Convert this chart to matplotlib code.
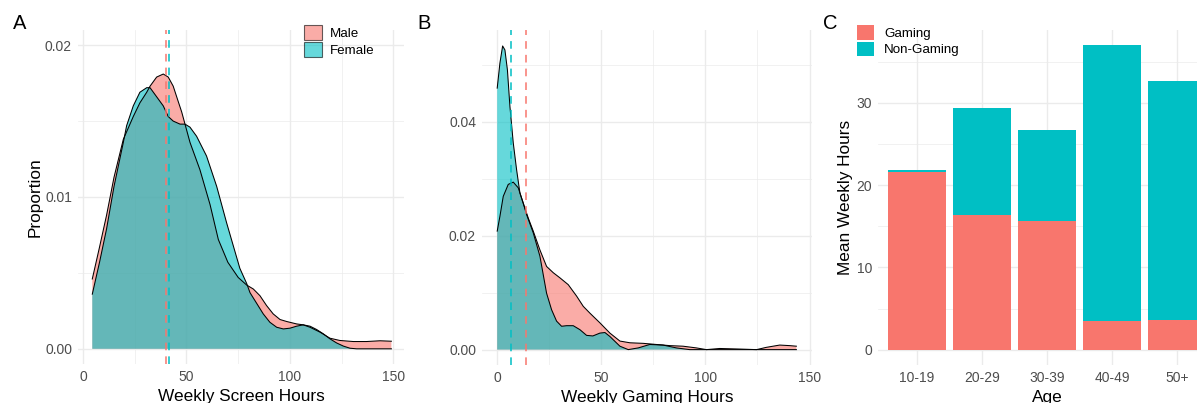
import numpy as np
import matplotlib.pyplot as plt
from matplotlib.patches import Patch

plt.rcParams['font.family'] = ['Liberation Sans', 'DejaVu Sans']

RED = '#F8766D'
TEAL = '#00BFC4'

# panel A: density of weekly screen hours by gender
screen_male_x = [4.5, 8, 11.4, 15, 19.5, 24.3, 27.5, 30.8, 32.4, 35.6, 38.8, 41.2, 43.6, 46.0, 47.7,
                 49.3, 51.7, 56.5, 61.4, 65.4, 70, 75, 79.1, 82.3, 85.5, 88.7, 91.9, 95.2, 98.4,
                 103.2, 106.4, 109.7, 114.5, 119.3, 124.1, 130.6, 137.0, 143.5, 149]
screen_male_y = [0.0046, 0.0067, 0.0088, 0.0113, 0.0138, 0.0153, 0.0162, 0.0169, 0.0173, 0.0179,
                 0.0181, 0.0179, 0.0173, 0.0163, 0.0156, 0.0148, 0.0136, 0.0118, 0.0095, 0.0072,
                 0.0057, 0.0047, 0.0042, 0.00394, 0.0035, 0.00285, 0.0023, 0.00193, 0.0018, 0.00164,
                 0.00158, 0.00142, 0.0011, 0.0007, 0.00055, 0.00048, 0.00048, 0.00053, 0.0005]
screen_female_x = [4.5, 8, 11.4, 15, 19.5, 21.1, 24.3, 27.5, 30.8, 32.4, 35.6, 38.8, 41.2, 43.6, 46.9,
                   49.3, 51.7, 54.9, 59.7, 64.6, 69.4, 72.6, 75.8, 79.1, 80.7, 83.9, 87.1, 90.3, 93.6,
                   96.8, 100.0, 103.2, 106.4, 109.7, 112.9, 116.1, 119.3, 122.5, 125.8, 129.0, 132.2,
                   140, 149]
screen_female_y = [0.0036, 0.0057, 0.0079, 0.0107, 0.0136, 0.0147, 0.0160, 0.0169, 0.0172, 0.0172,
                   0.0166, 0.0160, 0.0153, 0.0150, 0.0148, 0.0148, 0.0146, 0.0140, 0.0127, 0.0107,
                   0.0083, 0.0068, 0.0053, 0.0043, 0.0037, 0.0030, 0.0023, 0.00175, 0.00142, 0.00131,
                   0.00136, 0.00149, 0.00158, 0.00149, 0.00127, 0.00099, 0.00066, 0.00039, 0.00018,
                   0.00004, 0.0, 0.0, 0.0]
screen_median_male = 39.9
screen_median_female = 41.5

# panel B: density of weekly gaming hours by gender
gaming_male_x = [0.1, 1.4, 3.0, 5.4, 7.8, 10.2, 12.6, 15.0, 17.4, 20.6, 23.8, 27.0, 30.2, 34.2, 38.2,
                 41.4, 44.6, 49.4, 54.2, 59.0, 63.8, 70.2, 76.6, 83.0, 89.3, 95.7, 100.5, 106.9,
                 116.5, 124.6, 129.3, 135.7, 140.5, 143.7]
gaming_male_y = [0.0208, 0.0234, 0.0269, 0.0290, 0.0294, 0.0284, 0.0257, 0.0231, 0.0208, 0.0175,
                 0.0146, 0.0135, 0.0126, 0.0114, 0.0094, 0.0076, 0.0064, 0.0047, 0.0029, 0.0015,
                 0.0012, 0.0011, 0.0009, 0.0007, 0.0006, 0.0003, 0.0, 0.0002, 0.0001, 0.0,
                 0.0004, 0.0008, 0.0007, 0.0006]
gaming_female_x = [0.1, 1.4, 2.7, 3.8, 5.0, 6.2, 7.8, 9.4, 11.0, 12.6, 14.2, 17.4, 20.6, 23.8, 26.2,
                   28.6, 31.0, 33.4, 36.6, 39.8, 43.0, 46.0, 49.4, 51.8, 54.2, 59.0, 63.0, 67.8,
                   73.3, 79.7, 86.1, 92.5, 110, 130, 143.7]
gaming_female_y = [0.0459, 0.0503, 0.0533, 0.0526, 0.0491, 0.0427, 0.0363, 0.0316, 0.0275, 0.0257,
                   0.0237, 0.0205, 0.0164, 0.0099, 0.0070, 0.0050, 0.0041, 0.0042, 0.0042, 0.0035,
                   0.0025, 0.0024, 0.0029, 0.0030, 0.0023, 0.0006, 0.0, 0.0003, 0.0009, 0.0008,
                   0.0003, 0.0, 0.0, 0.0, 0.0]
gaming_median_male = 13.9
gaming_median_female = 6.5

# panel C: mean weekly hours by age group
age_groups = ['10-19', '20-29', '30-39', '40-49', '50+']
gaming_hours = [21.6, 16.4, 15.7, 3.5, 3.6]
non_gaming_hours = [0.2, 13.0, 11.0, 33.5, 29.1]

W, H = 1197, 403


def add_axes(left, top, right, bottom):
    return fig.add_axes([left / W, 1 - bottom / H, (right - left) / W, (bottom - top) / H])


def style_axes(ax):
    for s in ax.spines.values():
        s.set_visible(False)
    ax.tick_params(which='both', length=0, labelsize=10, labelcolor='#4D4D4D')
    ax.tick_params(axis='x', pad=4)
    ax.tick_params(axis='y', pad=4.3)
    ax.grid(which='major', color='#EBEBEB', lw=1.0)
    ax.grid(which='minor', color='#EBEBEB', lw=0.5)
    ax.set_axisbelow(True)


def draw_density(ax, x, y, color):
    ax.fill_between(x, 0, y, facecolor=color, alpha=0.6, edgecolor='none')
    ax.plot(x, y, color='black', lw=0.75)


fig = plt.figure(figsize=(W / 100, H / 100), dpi=100)

# ---- A
axA = add_axes(78, 30, 404, 364)
style_axes(axA)
draw_density(axA, screen_male_x, screen_male_y, RED)
draw_density(axA, screen_female_x, screen_female_y, TEAL)
axA.axvline(screen_median_male, color=RED, ls=(0, (5, 4)), lw=1.1)
axA.axvline(screen_median_female, color=TEAL, ls=(0, (5, 4)), lw=1.1)
axA.set_xlim(-2.4, 155.1)
axA.set_ylim(-0.001, 0.021)
axA.set_xticks([0, 50, 100, 150])
axA.set_xticks([25, 75, 125], minor=True)
axA.set_yticks([0, 0.01, 0.02], ['0.00', '0.01', '0.02'])
axA.set_yticks([0.005, 0.015], minor=True)
axA.set_xlabel('Weekly Screen Hours', fontsize=12.4, va='baseline')
axA.xaxis.set_label_coords(0.5, -0.112)
axA.set_ylabel('Proportion', fontsize=12.4, va='center')
axA.yaxis.set_label_coords(-0.132, 0.5)
handles = [Patch(facecolor=RED, alpha=0.6, edgecolor='black', lw=0.8),
           Patch(facecolor=TEAL, alpha=0.6, edgecolor='black', lw=0.8)]
axA.legend(handles, ['Male', 'Female'], loc='upper left', bbox_to_anchor=(0.693, 1.015),
           frameon=False, borderpad=0, borderaxespad=0, fontsize=9.6,
           handlelength=1.36, handleheight=1.36, labelspacing=0.12, handletextpad=0.6)

# ---- B
axB = add_axes(482, 30, 812, 365)
style_axes(axB)
draw_density(axB, gaming_male_x, gaming_male_y, RED)
draw_density(axB, gaming_female_x, gaming_female_y, TEAL)
axB.axvline(gaming_median_female, color=TEAL, ls=(0, (5, 4)), lw=1.1)
axB.axvline(gaming_median_male, color=RED, ls=(0, (5, 4)), lw=1.1)
axB.set_xlim(-7.2, 151.2)
axB.set_ylim(-0.0027, 0.0561)
axB.set_xticks([0, 50, 100, 150])
axB.set_xticks([25, 75, 125], minor=True)
axB.set_yticks([0, 0.02, 0.04], ['0.00', '0.02', '0.04'])
axB.set_yticks([0.01, 0.03, 0.05], minor=True)
axB.set_xlabel('Weekly Gaming Hours', fontsize=12.4, va='baseline')
axB.xaxis.set_label_coords(0.5, -0.109)

# ---- C
axC = add_axes(878, 30, 1216, 365)
style_axes(axC)
pos = np.arange(len(age_groups))
axC.bar(pos, gaming_hours, width=0.9, color=RED, lw=0)
axC.bar(pos, non_gaming_hours, width=0.9, bottom=gaming_hours, color=TEAL, lw=0)
axC.set_xlim(-0.6, 4.6)
axC.set_ylim(-1.85, 38.85)
axC.set_xticks(pos, age_groups)
axC.set_yticks([0, 10, 20, 30])
axC.set_yticks([5, 15, 25, 35], minor=True)
axC.set_xlabel('Age', fontsize=12.4, va='baseline')
axC.xaxis.set_label_coords(0.5, -0.109)
axC.set_ylabel('Mean Weekly Hours', fontsize=12.4, va='center')
axC.yaxis.set_label_coords(-0.0947, 0.5)
axC.legend([Patch(facecolor=RED), Patch(facecolor=TEAL)], ['Gaming', 'Non-Gaming'],
           loc='upper left', bbox_to_anchor=(-0.062, 1.015), frameon=False, borderpad=0,
           borderaxespad=0, fontsize=9.6, handlelength=1.27, handleheight=1.3,
           labelspacing=0.15, handletextpad=0.76)

# panel tags
for tag, x in [('A', 12.5), ('B', 417), ('C', 822.5)]:
    fig.text(x / W, 1 - 29 / H, tag, fontsize=14.5, va='baseline', ha='left')

fig.savefig('out.png', dpi=100)
